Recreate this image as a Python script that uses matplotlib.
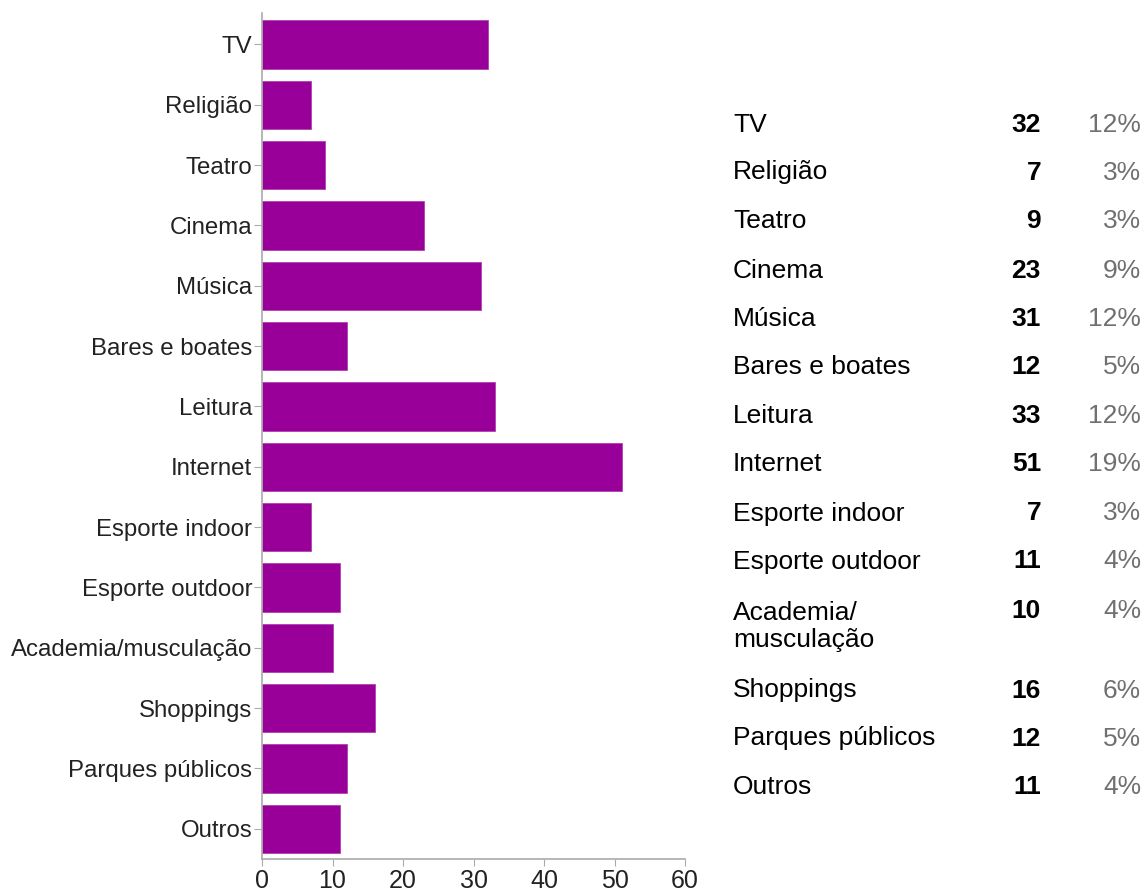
import matplotlib
matplotlib.use("Agg")
import matplotlib.pyplot as plt

categories = ["TV", "Religião", "Teatro", "Cinema", "Música", "Bares e boates",
              "Leitura", "Internet", "Esporte indoor", "Esporte outdoor",
              "Academia/musculação", "Shoppings", "Parques públicos", "Outros"]
table_labels = ["TV", "Religião", "Teatro", "Cinema", "Música", "Bares e boates",
                "Leitura", "Internet", "Esporte indoor", "Esporte outdoor",
                "Academia/\nmusculação", "Shoppings", "Parques públicos", "Outros"]
counts = [32, 7, 9, 23, 31, 12, 33, 51, 7, 11, 10, 16, 12, 11]
percents = ["12%", "3%", "3%", "9%", "12%", "5%", "12%", "19%", "3%", "4%",
            "4%", "6%", "5%", "4%"]
xticks = [0, 10, 20, 30, 40, 50, 60]

plt.rcParams['font.family'] = ['Liberation Sans', 'DejaVu Sans']

W, H = 1143, 889
fig = plt.figure(figsize=(W / 100, H / 100), dpi=100)
ax = fig.add_axes([262 / W, 1 - 859 / H, 423 / W, 846 / H])

ypos = list(range(len(categories)))
ax.barh(ypos, counts, height=0.8, color="#990099", edgecolor="#b040b0", linewidth=0.6)
ax.set_ylim(len(categories) - 0.5, -0.52)
ax.set_xlim(0, 60)
ax.set_yticks(ypos)
ax.set_yticklabels(categories)
ax.set_xticks(xticks)
ax.set_xticklabels([str(t) for t in xticks])
for s in ["top", "right"]:
    ax.spines[s].set_visible(False)
for s in ["left", "bottom"]:
    ax.spines[s].set_color("#aaaaaa")
    ax.spines[s].set_linewidth(1.2)
ax.tick_params(axis="y", length=6, color="#aaaaaa", labelsize=17.3, labelcolor="#222222", pad=1)
ax.tick_params(axis="x", length=5, color="#aaaaaa", labelsize=18, labelcolor="#222222", pad=2)

# table on the right
row_y = [122, 170, 218, 268, 316, 365, 413, 462, 511, 559, 608, 688, 736, 785]
FS = 19
LINE = 30
for lab, c, p, y in zip(table_labels, counts, percents, row_y):
    fy = 1 - y / H
    nlines = lab.count("\n") + 1
    ly = 1 - (y + (nlines - 1) * LINE / 2) / H
    fig.text(733 / W, ly, lab, fontsize=FS, color="#000000", ha="left",
             va="center_baseline", linespacing=1.15)
    fig.text(1041 / W, fy, str(c), fontsize=FS, fontweight="bold", color="#000000",
             ha="right", va="center_baseline")
    fig.text(1141 / W, fy, p, fontsize=FS, color="#707070", ha="right", va="center_baseline")

fig.savefig("out.png", dpi=100)
